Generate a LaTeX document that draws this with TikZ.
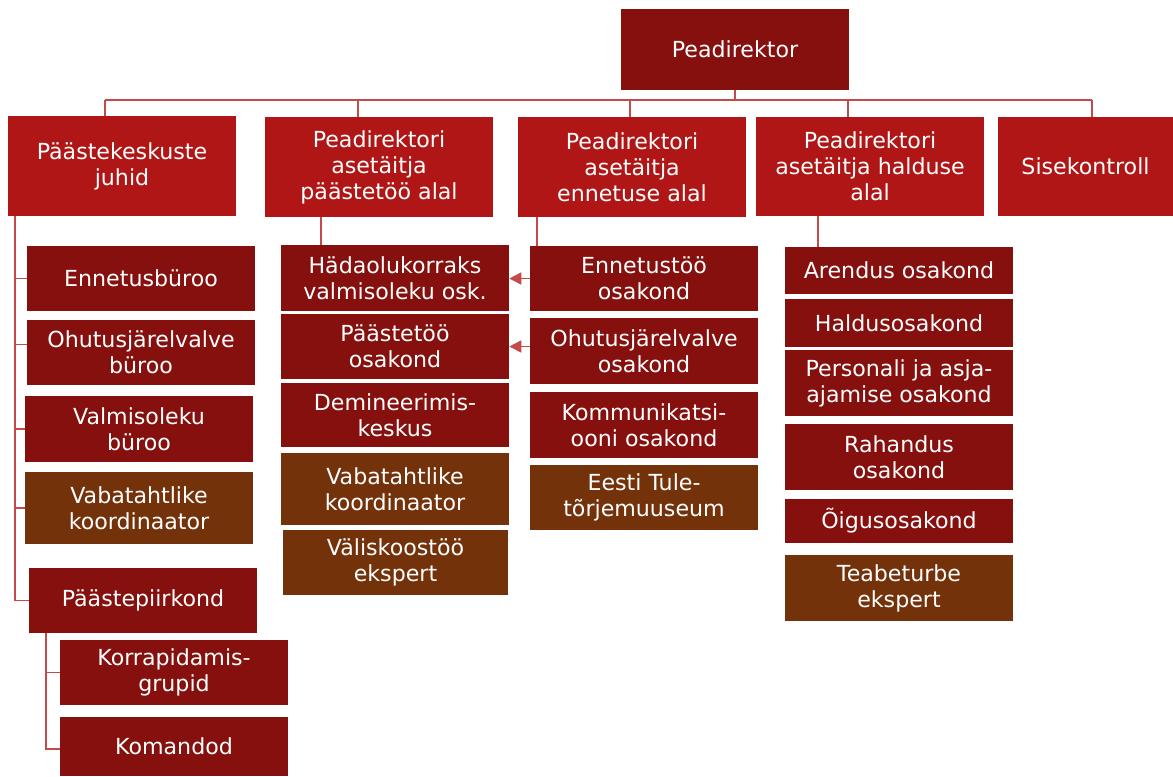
\documentclass[tikz,border=0pt]{standalone}
\usepackage{fontspec}
\setmainfont{DejaVu Sans}
\usetikzlibrary{arrows.meta}
\definecolor{redtop}{HTML}{B01616}
\definecolor{darkred}{HTML}{85100E}
\definecolor{brownbox}{HTML}{74320B}
\definecolor{linecol}{HTML}{C44A4A}
\newcommand\bx[7]{\node[#6, minimum width={(#4-#2)*0.75pt}, minimum height={(#5-#3)*0.75pt}] (#1) at ({(#2+#4)/2},{(#3+#5)/2}) {#7};}
\begin{document}
\begin{tikzpicture}[x=0.75pt,y=-0.75pt,
  base/.style={rectangle, inner sep=0pt, align=center, text=white,
    font=\fontsize{16.6pt}{19.5pt}\selectfont},
  lvltwo/.style={base, fill=redtop},
  dept/.style={base, fill=darkred},
  brn/.style={base, fill=brownbox},
  conn/.style={draw=linecol, line width=1.1pt},
  arr/.style={conn, -{Triangle[length=9pt,width=9pt]}}]
\useasboundingbox (0,0) rectangle (1173,776);

% top
\bx{pd}{621}{9}{849}{90}{dept}{Peadirektor}
% level 2
\bx{juhid}{8}{116}{236}{216}{lvltwo}{Päästekeskuste\\juhid}
\bx{ast1}{265}{117}{493}{217}{lvltwo}{Peadirektori\\asetäitja\\päästetöö alal}
\bx{ast2}{518}{117}{746}{217}{lvltwo}{Peadirektori\\asetäitja\\ennetuse alal}
\bx{ast3}{756}{117}{984}{216}{lvltwo}{Peadirektori\\asetäitja halduse\\alal}
\bx{sise}{998}{117}{1173}{216}{lvltwo}{Sisekontroll}

% left column
\bx{enb}{27}{246}{255}{311}{dept}{Ennetusbüroo}
\bx{ohb}{27}{320}{255}{385}{dept}{Ohutusjärelvalve\\büroo}
\bx{vmb}{25}{396}{253}{462}{dept}{Valmisoleku\\büroo}
\bx{vtka}{25}{472}{253}{544}{brn}{Vabatahtlike\\koordinaator}
\bx{ppk}{29}{568}{257}{633}{dept}{Päästepiirkond}
\bx{krg}{60}{640}{288}{705}{dept}{Korrapidamis-\\grupid}
\bx{kmd}{60}{717}{288}{776}{dept}{Komandod}

% column 2
\bx{hvo}{281}{245}{509}{311}{dept}{Hädaolukorraks\\valmisoleku osk.}
\bx{pto}{281}{314}{509}{379}{dept}{Päästetöö\\osakond}
\bx{dmk}{281}{383}{509}{447}{dept}{Demineerimis-\\keskus}
\bx{vtkb}{281}{453}{509}{525}{brn}{Vabatahtlike\\koordinaator}
\bx{vke}{283}{530}{508}{595}{brn}{Väliskoostöö\\ekspert}

% column 3
\bx{eto}{530}{246}{758}{311}{dept}{Ennetustöö\\osakond}
\bx{oho}{530}{318}{758}{384}{dept}{Ohutusjärelvalve\\osakond}
\bx{kko}{530}{392}{758}{458}{dept}{Kommunikatsi-\\ooni osakond}
\bx{etm}{530}{465}{758}{530}{brn}{Eesti Tule-\\tõrjemuuseum}

% column 4
\bx{aro}{785}{247}{1013}{294}{dept}{Arendus osakond}
\bx{hlo}{785}{299}{1013}{347}{dept}{Haldusosakond}
\bx{pja}{785}{350}{1013}{416}{dept}{Personali ja asja-\\ajamise osakond}
\bx{rho}{785}{424}{1013}{490}{dept}{Rahandus\\osakond}
\bx{oio}{785}{499}{1013}{543}{dept}{Õigusosakond}
\bx{tbe}{785}{555}{1013}{621}{brn}{Teabeturbe\\ekspert}

% bus
\coordinate (b1) at (105,100);
\coordinate (b2) at (358,100);
\coordinate (b3) at (630,100);
\coordinate (b4) at (848,100);
\coordinate (b5) at (1092,100);
\draw[conn] (pd.south) -- (pd.south |- b1);
\draw[conn] (b1) -- (b5);
\draw[conn] (b1) -- (b1 |- juhid.north);
\draw[conn] (b2) -- (b2 |- ast1.north);
\draw[conn] (b3) -- (b3 |- ast2.north);
\draw[conn] (b4) -- (b4 |- ast3.north);
\draw[conn] (b5) -- (b5 |- sise.north);

% left spine
\coordinate (s1) at (15,0);
\draw[conn] (s1 |- juhid.south) |- (ppk.west);
\draw[conn] (enb.west) -- (enb.west -| s1);
\draw[conn] ([yshift=6pt]ohb.west) -- ([yshift=6pt]ohb.west -| s1);
\draw[conn] (vmb.west) -- (vmb.west -| s1);
\draw[conn] (vtka.west) -- (vtka.west -| s1);
\coordinate (s2) at (46,0);
\draw[conn] (s2 |- ppk.south) |- ([yshift=-2pt]kmd.west);
\draw[conn] (krg.west) -- (krg.west -| s2);

% stubs
\coordinate (c2) at (321,0);
\coordinate (c3) at (537,0);
\coordinate (c4) at (818,0);
\draw[conn] (c2 |- ast1.south) -- (c2 |- hvo.north);
\draw[conn] (c3 |- ast2.south) -- (c3 |- eto.north);
\draw[conn] (c4 |- ast3.south) -- (c4 |- aro.north);

% arrows
\draw[arr] (eto.west) -- (eto.west -| hvo.east);
\draw[arr] (oho.west |- pto.east) -- (pto.east);
\end{tikzpicture}
\end{document}
